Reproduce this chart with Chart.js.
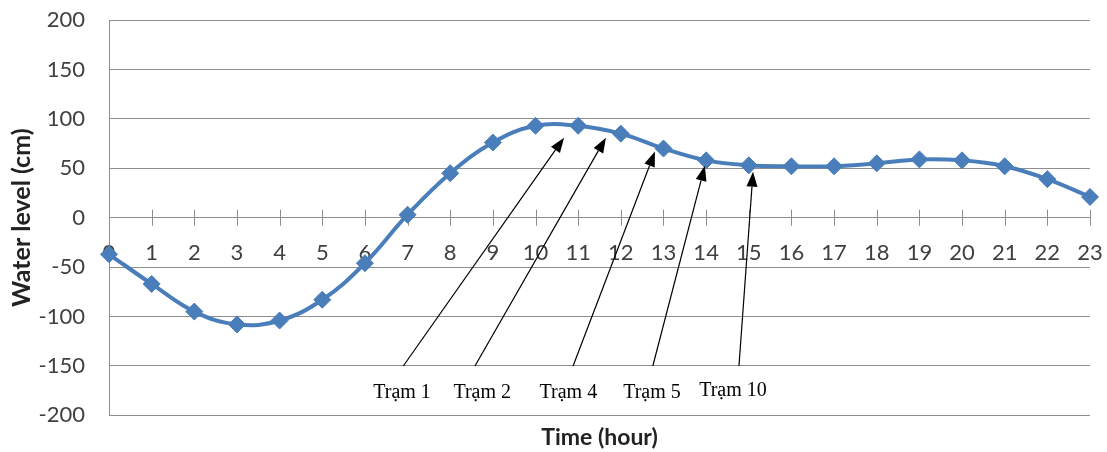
<!DOCTYPE html>
<html>
<head>
<meta charset="utf-8">
<script src="https://cdn.jsdelivr.net/npm/chart.js@4.4.1/dist/chart.umd.min.js"></script>
<style>
  html, body { margin: 0; padding: 0; background: #fff; }
  #wrap { width: 1107px; height: 452px; }
</style>
</head>
<body>
<div id="wrap"><canvas id="chart" width="1107" height="452"></canvas></div>
<script>
// hours 0..23 and the water level
const hours = ['0','1','2','3','4','5','6','7','8','9','10','11','12','13','14','15','16','17','18','19','20','21','22','23'];
const waterLevel = [-37, -67, -95, -108, -104, -83, -46, 3, 45, 76, 93, 93, 85, 70, 58, 53, 52, 52, 55, 59, 58, 52, 39, 21];

// station annotations (hour position / level on the chart scales)
const stationNames = ['Trạm 1', 'Trạm 2', 'Trạm 4', 'Trạm 5', 'Trạm 10'];
const labelHour = [6.87, 8.75, 10.77, 12.73, 14.63];
const labelLevel = [-177, -177, -177, -177, -175];
const tailHour = [6.9, 8.58, 10.88, 12.75, 14.77];
const tailLevel = [-150, -150, -150, -150, -150];
const headHour = [10.67, 11.65, 12.8, 13.97, 15.1];
const headLevel = [81, 81, 67, 52.5, 46.5];

const GRID = '#8e8e8e';
const BLUE = '#4a7ebb';

// tick marks crossing the zero line, like the excel axis
const crossTicks = {
    id: 'crossTicks',
    beforeDatasetsDraw(chart) {
        const ctx = chart.ctx;
        const xs = chart.scales.x, ys = chart.scales.y;
        const y0 = ys.getPixelForValue(0);
        ctx.save();
        ctx.strokeStyle = GRID;
        ctx.lineWidth = 1;
        for (let i = 1; i < hours.length; i++) {
            const x = Math.round(xs.getPixelForValue(i)) + 0.5;
            ctx.beginPath();
            ctx.moveTo(x, y0 - 8);
            ctx.lineTo(x, y0 + 8);
            ctx.stroke();
        }
        ctx.restore();
    }
};

// arrows + station names
const stationArrows = {
    id: 'stationArrows',
    afterDatasetsDraw(chart) {
        const ctx = chart.ctx;
        const xs = chart.scales.x, ys = chart.scales.y;
        ctx.save();
        ctx.strokeStyle = '#000';
        ctx.fillStyle = '#000';
        ctx.lineWidth = 1.2;
        for (let i = 0; i < stationNames.length; i++) {
            const x1 = xs.getPixelForValue(tailHour[i]);
            const y1 = ys.getPixelForValue(tailLevel[i]);
            const x2 = xs.getPixelForValue(headHour[i]);
            const y2 = ys.getPixelForValue(headLevel[i]);
            const ang = Math.atan2(y2 - y1, x2 - x1);
            const len = 15, half = 5.5;
            const bx = x2 - len * Math.cos(ang), by = y2 - len * Math.sin(ang);
            ctx.beginPath();
            ctx.moveTo(x1, y1);
            ctx.lineTo(bx, by);
            ctx.stroke();
            ctx.beginPath();
            ctx.moveTo(x2, y2);
            ctx.lineTo(bx + half * Math.sin(ang), by - half * Math.cos(ang));
            ctx.lineTo(bx - half * Math.sin(ang), by + half * Math.cos(ang));
            ctx.closePath();
            ctx.fill();

            ctx.font = '20px "Liberation Serif"';
            ctx.textAlign = 'center';
            ctx.textBaseline = 'middle';
            ctx.fillText(stationNames[i], xs.getPixelForValue(labelHour[i]), ys.getPixelForValue(labelLevel[i]));
        }
        ctx.restore();
    }
};

const ctx = document.getElementById('chart').getContext('2d');
new Chart(ctx, {
    type: 'line',
    data: {
        labels: hours,
        datasets: [{
            data: waterLevel,
            borderColor: BLUE,
            backgroundColor: BLUE,
            borderWidth: 4,
            tension: 0.4,
            pointStyle: 'rectRot',
            pointRadius: 8.5,
            pointBorderWidth: 1,
            pointBackgroundColor: BLUE,
            pointBorderColor: BLUE,
            clip: false,
            fill: false
        }]
    },
    options: {
        responsive: false,
        animation: false,
        layout: { padding: { top: 20, right: 17, bottom: 0, left: 0 } },
        plugins: {
            legend: { display: false },
            tooltip: { enabled: false },
            title: {
                display: true,
                position: 'bottom',
                fullSize: false,
                text: 'Time (hour)',
                color: '#222',
                font: { family: 'Lato', size: 23, weight: 'bold' },
                padding: { top: 8, bottom: 1 }
            }
        },
        scales: {
            x: {
                type: 'category',
                offset: false,
                position: { y: 0 },
                z: 1,
                afterFit(scale) { scale.paddingLeft = 0; scale.paddingRight = 0; },
                grid: { display: false },
                border: { display: false },
                ticks: {
                    color: '#404040',
                    font: { family: 'Lato', size: 22 },
                    padding: 14,
                    maxRotation: 0,
                    autoSkip: false
                }
            },
            y: {
                min: -200,
                max: 200,
                afterFit(scale) {
                    scale.width = 109;
                    scale.paddingTop = 0;
                    scale.paddingBottom = 0;
                },
                grid: { color: GRID, lineWidth: 1, drawTicks: false },
                border: { color: GRID, width: 1 },
                ticks: {
                    stepSize: 50,
                    color: '#404040',
                    font: { family: 'Lato', size: 22 },
                    padding: 24
                },
                title: {
                    display: true,
                    text: 'Water level (cm)',
                    color: '#222',
                    font: { family: 'Lato', size: 25, weight: 'bold' },
                    padding: { top: 7, bottom: 0 }
                }
            }
        }
    },
    plugins: [crossTicks, stationArrows]
});
</script>
</body>
</html>
